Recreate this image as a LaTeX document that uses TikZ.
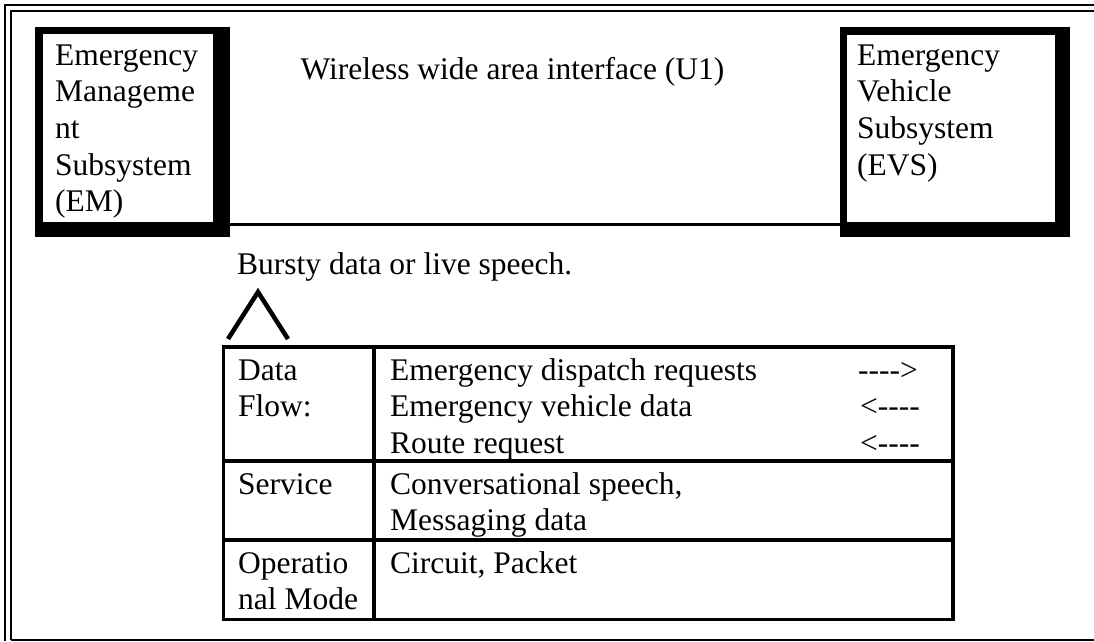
\documentclass[tikz,border=0pt]{standalone}
\usepackage{fontspec}
\setmainfont{Liberation Serif}
\usetikzlibrary{calc}
\tikzset{
  txt/.style={anchor=base west, inner sep=0pt, font=\fontsize{31.5}{36.7}\selectfont},
  txtc/.style={anchor=base, inner sep=0pt, font=\fontsize{31.5}{36.7}\selectfont},
  frameline/.style={line width=2pt},
  boxouter/.style={rectangle, fill=black, inner sep=0pt},
  conn/.style={line width=3pt},
  tline/.style={line width=3.5pt}
}
\begin{document}
\begin{tikzpicture}[x=1pt,y=-1pt]
\useasboundingbox (0,0) rectangle (1094,641);
% outer frame
\draw[frameline] (5,641) -- (5,5) -- (1094,5);
\draw[frameline] (10.5,639.5) -- (10.5,10.5) -- (1094,10.5);
\draw[frameline] (10.5,639.5) -- (1094,639.5);
% EM box
\node[boxouter, minimum width=195pt, minimum height=210pt] (em) at (132.5,132) {};
\fill[white] (43,34) rectangle (213,222);
% EVS box
\node[boxouter, minimum width=230pt, minimum height=210pt] (evs) at (955,132) {};
\fill[white] (847,35) rectangle (1055,222);
% connector
\draw[conn] ($(em.east)+(0,92.5)$) -- ($(evs.west)+(0,92.5)$);
% EM text
\node[txt] (em1) at (55,65) {Emergency};
\node[txt] (em2) at (55,101.7) {Manageme};
\node[txt] (em3) at (55,138.4) {nt};
\node[txt] (em4) at (55,175.1) {Subsystem};
\node[txt] (em5) at (55,211.8) {(EM)};
% EVS text
\node[txt] (ev1) at (857,65) {Emergency};
\node[txt] (ev2) at (857,101.7) {Vehicle};
\node[txt] (ev3) at (857,138.4) {Subsystem};
\node[txt] (ev4) at (857,175.1) {(EVS)};
% interface label
\node[txtc] (u1) at (512.5,79) {Wireless wide area interface (U1)};
\node[txt] (bursty) at (237,274) {Bursty data or live speech.};
% caret
\draw[line width=4.5pt, miter limit=10] (228,339) -- (258,292) -- (288,339);
% table
\node[draw, tline, rectangle, inner sep=0pt, minimum width=729.5pt, minimum height=272.5pt] (tbl) at (588.25,483.25) {};
\draw[tline] (tbl.north -| 374,0) -- (tbl.south -| 374,0);
\draw[tline] (tbl.west |- 0,461) -- (tbl.east |- 0,461);
\draw[tline] (tbl.west |- 0,540) -- (tbl.east |- 0,540);
% table text
\node[txt] (c1a) at (238,380) {Data};
\node[txt] (c1b) at (238,416.7) {Flow:};
\node[txt] (c2a) at (390,380) {Emergency dispatch requests};
\node[txt] (c2b) at (390,416.7) {Emergency vehicle data};
\node[txt] (c2c) at (390,453.4) {Route request};
\node[txt] (a1) at (858,380) {-{}-{}-{}-{}>};
\node[txt] (a2) at (860,416.7) {<{}-{}-{}-{}-};
\node[txt] (a3) at (860,453.4) {<{}-{}-{}-{}-};
\node[txt] (s1) at (238,494) {Service};
\node[txt] (s2a) at (390,494) {Conversational speech,};
\node[txt] (s2b) at (390,530.7) {Messaging data};
\node[txt] (o1a) at (238,573) {Operatio};
\node[txt] (o1b) at (238,609.7) {nal Mode};
\node[txt] (o2) at (390,573) {Circuit, Packet};
\end{tikzpicture}
\end{document}
